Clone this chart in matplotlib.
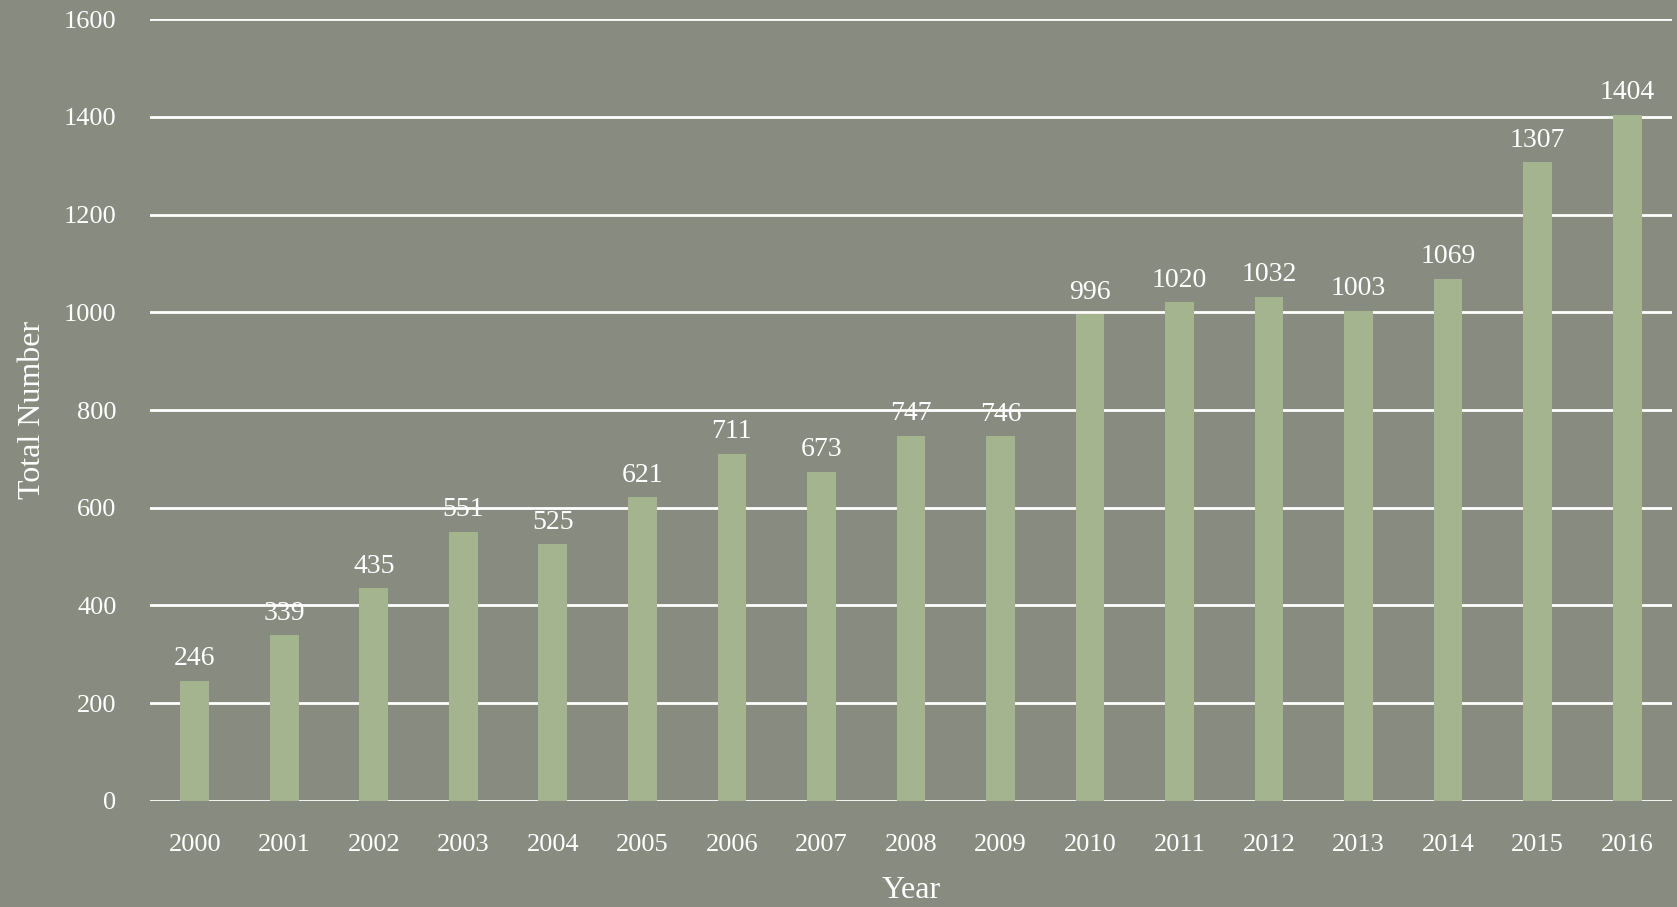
import matplotlib.pyplot as plt
import numpy as np

# Antall per aar
years = ['2000', '2001', '2002', '2003', '2004', '2005', '2006', '2007', '2008',
         '2009', '2010', '2011', '2012', '2013', '2014', '2015', '2016']
totals = [246, 339, 435, 551, 525, 621, 711, 673, 747,
          746, 996, 1020, 1032, 1003, 1069, 1307, 1404]

bg = '#888c80'
bar_col = '#a4b48f'
txt = 'white'
font = 'Liberation Serif'

fig = plt.figure(figsize=(16.77, 9.07), dpi=100)
fig.patch.set_facecolor(bg)
ax = fig.add_axes([0.0894, 0.1169, 0.9076, 0.8621])
ax.set_facecolor(bg)

x = np.arange(len(years))
ax.bar(x, totals, width=0.32, color=bar_col, zorder=3)

for xi, v in zip(x, totals):
    ax.annotate(str(v), (xi, v), xytext=(0, 7), textcoords='offset points',
                ha='center', va='bottom', color=txt, fontsize=20, family=font)

ax.set_xlim(-0.5, 16.5)
ax.set_ylim(0, 1600)
ax.set_yticks(np.arange(0, 1601, 200))
ax.set_xticks(x)
ax.set_xticklabels(years)
ax.grid(axis='y', color='white', linewidth=2, zorder=0)
ax.set_axisbelow(True)
for s in ax.spines.values():
    s.set_visible(False)
ax.tick_params(length=0, colors=txt, labelsize=19)
ax.tick_params(axis='y', pad=24)
ax.tick_params(axis='x', pad=24)
for lab in ax.get_xticklabels() + ax.get_yticklabels():
    lab.set_family(font)

ax.set_xlabel('Year', color=txt, fontsize=23, family=font, labelpad=14)
ax.set_ylabel('Total Number', color=txt, fontsize=23, family=font, labelpad=12)

fig.savefig('out.png', facecolor=bg)
